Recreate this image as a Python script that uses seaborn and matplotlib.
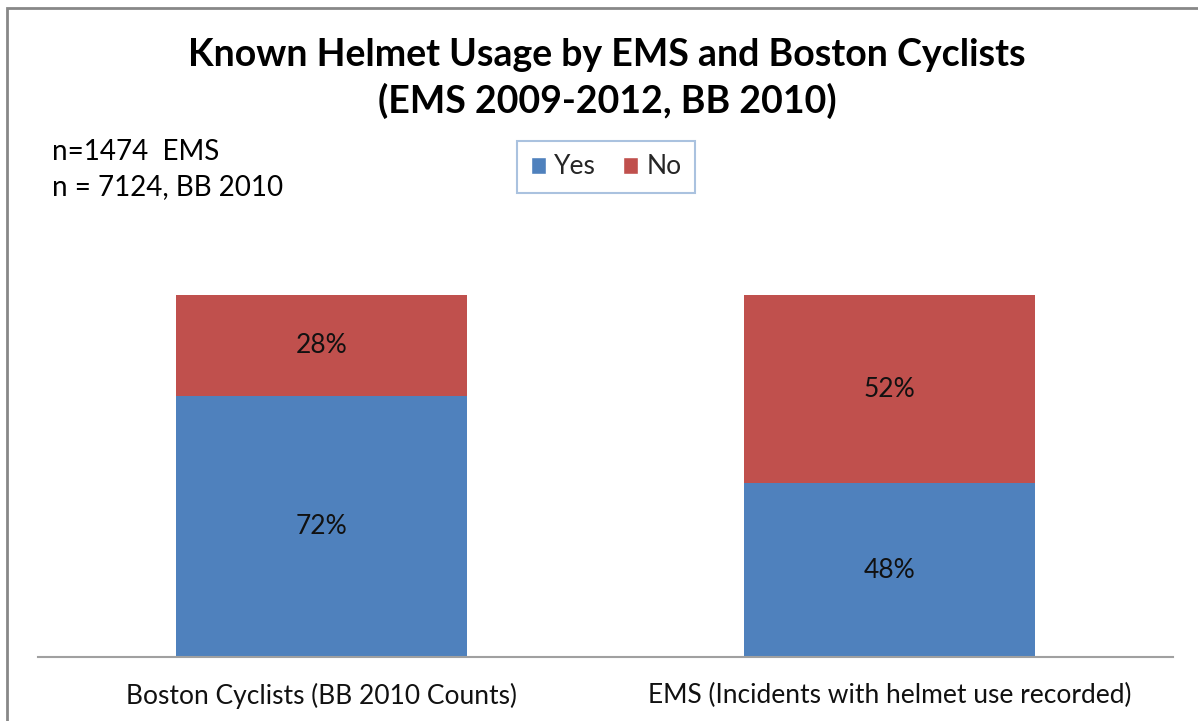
import matplotlib
matplotlib.use("Agg")
import matplotlib.pyplot as plt
import seaborn as sns
import pandas as pd
from matplotlib.patches import Patch, Rectangle

# data
categories = ["Boston Cyclists (BB 2010 Counts)", "EMS (Incidents with helmet use recorded)"]
yes_share = [0.72, 0.48]
no_share = [0.28, 0.52]

sns.set_theme(style="white")
plt.rcParams['font.family'] = ['Lato', 'DejaVu Sans']

blue = "#4F81BD"
red = "#C0504D"

df = pd.DataFrame({"cat": categories, "yes": yes_share, "no": no_share})
df["total"] = df["yes"] + df["no"]

fig = plt.figure(figsize=(11.98, 7.21), dpi=100)
ax = fig.add_axes([38 / 1198, 1 - 657 / 721, 1135 / 1198, 362 / 721])

sns.barplot(data=df, x="cat", y="total", color=red, width=0.513, ax=ax,
            saturation=1, linewidth=0)
sns.barplot(data=df, x="cat", y="yes", color=blue, width=0.513, ax=ax,
            saturation=1, linewidth=0)

for i, (y, n) in enumerate(zip(yes_share, no_share)):
    ax.text(i, y / 2, f"{round(y * 100)}%", ha="center", va="center", fontsize=19, color="#111111")
    ax.text(i, y + n / 2, f"{round(n * 100)}%", ha="center", va="center", fontsize=19, color="#111111")

ax.set_xlim(-0.5, 1.5)
ax.set_ylim(0, 1.0)
ax.set_xlabel("")
ax.set_ylabel("")
ax.set_yticks([])
for s in ["top", "right", "left"]:
    ax.spines[s].set_visible(False)
ax.spines["bottom"].set_color("#a0a0a0")
ax.spines["bottom"].set_linewidth(1.5)
ax.tick_params(axis="x", length=0, pad=19, labelsize=19, colors="#111111")

# title
fig.text(607 / 1198, 1 - 55 / 721, "Known Helmet Usage by EMS and Boston Cyclists",
         ha="center", va="center", fontsize=27, fontweight="bold", color="black")
fig.text(607 / 1198, 1 - 101 / 721, "(EMS 2009-2012, BB 2010)",
         ha="center", va="center", fontsize=27, fontweight="bold", color="black")

fig.text(52 / 1198, 1 - 152 / 721, "n=1474  EMS", ha="left", va="center", fontsize=20, color="black")
fig.text(52 / 1198, 1 - 187 / 721, "n = 7124, BB 2010", ha="left", va="center", fontsize=20, color="black")

handles = [Patch(facecolor=blue, label="Yes"), Patch(facecolor=red, label="No")]
leg = fig.legend(handles=handles, loc="center", bbox_to_anchor=(606 / 1198, 1 - 167 / 721),
                 ncol=2, fontsize=19, frameon=True, fancybox=False,
                 handlelength=0.6, handleheight=0.6, handletextpad=0.3, columnspacing=1.0,
                 borderpad=0.5)
leg.get_frame().set_edgecolor("#95B3D7")
leg.get_frame().set_linewidth(1.5)

# outer chart frame
fig.patches.append(Rectangle((7 / 1198, -0.02), 1.2, 1 - 8 / 721 + 0.02, transform=fig.transFigure,
                             fill=False, edgecolor="#888888", linewidth=2))

fig.savefig("out.png", dpi=100)
